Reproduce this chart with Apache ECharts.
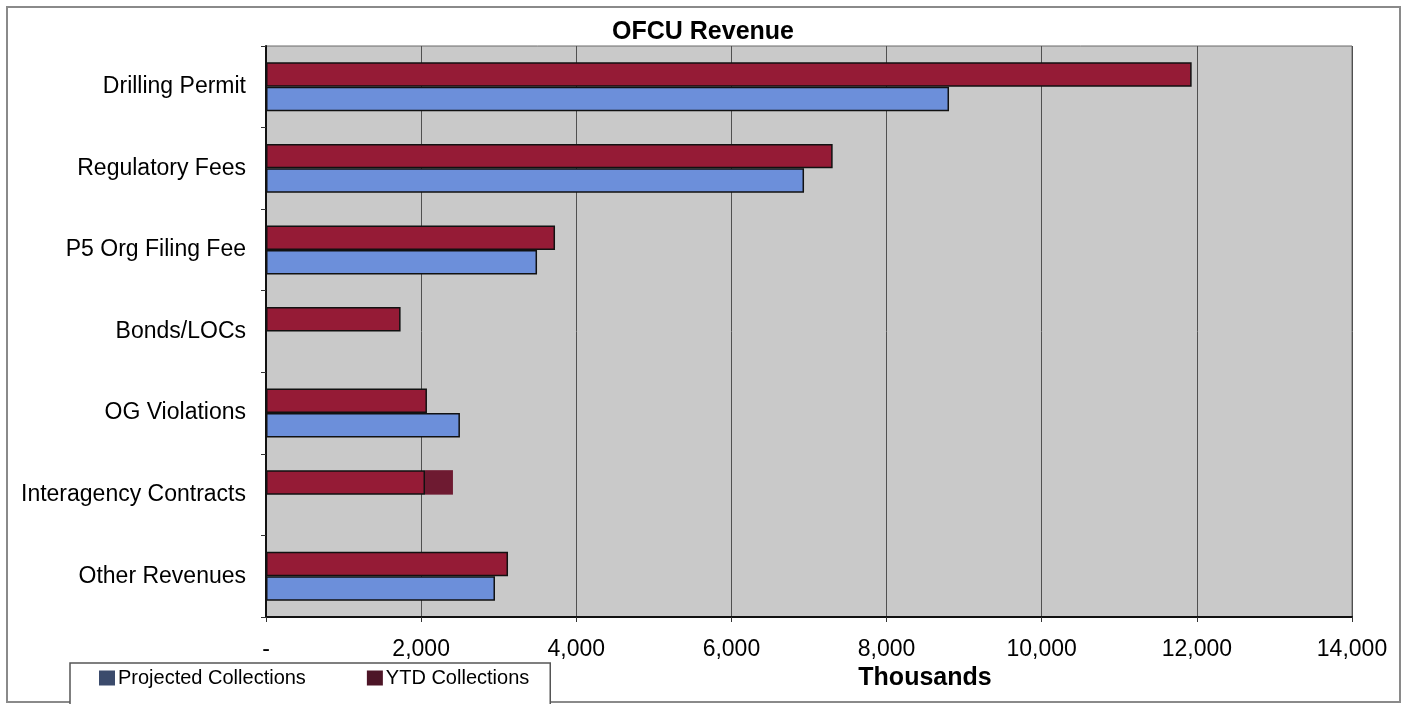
<!DOCTYPE html>
<html>
<head>
<meta charset="utf-8">
<script src="https://cdn.jsdelivr.net/npm/echarts@6/dist/echarts.min.js"></script>
<style>
html,body{margin:0;padding:0;background:#fff;}
#chart{width:1406px;height:704px;}
</style>
</head>
<body>
<div id="chart"></div>
<script>
const categories = ['Drilling Permit','Regulatory Fees','P5 Org Filing Fee','Bonds/LOCs','OG Violations','Interagency Contracts','Other Revenues'];
const projectedCollections = [8805, 6936, 3494, null, 2500, null, 2952];
const ytdCollections = [11933, 7305, 3726, 1735, 2075, 2050, 3120];
const ytdExtra = [null, null, null, null, null, 360, null];
const xTickValues = [0, 2000, 4000, 6000, 8000, 10000, 12000, 14000];
const xTickLabels = ['-', '2,000', '4,000', '6,000', '8,000', '10,000', '12,000', '14,000'];

const FONT = '"Liberation Sans", Arial, sans-serif';
const chart = echarts.init(document.getElementById('chart'));
chart.setOption({
  animation: false,
  backgroundColor: '#ffffff',
  title: {
    text: 'OFCU Revenue',
    left: 'center',
    top: 15,
    textStyle: { fontFamily: FONT, fontSize: 25, fontWeight: 'bold', color: '#000' }
  },
  graphic: [{
    type: 'rect',
    shape: { x: 7, y: 7, width: 1393, height: 695 },
    style: { fill: 'none', stroke: '#8a8a8a', lineWidth: 2 },
    z: -1
  }],
  legend: {
    left: 70,
    top: 663,
    orient: 'horizontal',
    padding: [5, 21, 20, 29],
    itemGap: 61,
    itemWidth: 16,
    itemHeight: 15,
    borderColor: '#555',
    borderWidth: 1.5,
    backgroundColor: '#fff',
    textStyle: { fontFamily: FONT, fontSize: 20, color: '#000', padding: [0, 0, 0, -2] },
    data: [
      { name: 'Projected Collections', icon: 'rect', itemStyle: { color: '#3b4b6c', borderWidth: 0 } },
      { name: 'YTD Collections', icon: 'rect', itemStyle: { color: '#4d1527', borderWidth: 0 } }
    ]
  },
  grid: {
    left: 266,
    right: 54,
    top: 46,
    bottom: 87,
    show: true,
    backgroundColor: '#c9c9c9',
    borderColor: '#6a6a6a',
    borderWidth: 1
  },
  xAxis: {
    type: 'value',
    min: 0,
    max: 14000,
    interval: 2000,
    name: 'Thousands',
    nameLocation: 'middle',
    nameGap: 41,
    nameTextStyle: { fontFamily: FONT, fontSize: 25, fontWeight: 'bold', color: '#000', padding: [0, 0, 0, 232] },
    axisLine: { show: true, lineStyle: { color: '#111', width: 2 } },
    axisTick: { show: true, length: 5, lineStyle: { color: '#333' } },
    splitLine: { show: true, lineStyle: { color: '#505050', width: 1 } },
    axisLabel: {
      margin: 21,
      fontFamily: FONT,
      fontSize: 23,
      color: '#000',
      formatter: function (v) {
        const i = xTickValues.indexOf(v);
        return i >= 0 ? xTickLabels[i] : '';
      }
    }
  },
  yAxis: {
    type: 'category',
    data: categories,
    inverse: true,
    axisLine: { show: true, lineStyle: { color: '#111', width: 2 } },
    axisTick: { show: true, length: 5, lineStyle: { color: '#333' } },
    splitLine: { show: false },
    axisLabel: { margin: 20, fontFamily: FONT, fontSize: 23, color: '#000' }
  },
  series: [
    {
      name: 'YTD Collections',
      type: 'bar',
      stack: 'ytd',
      data: ytdCollections,
      barCategoryGap: '40%',
      barGap: '0%',
      itemStyle: { color: '#951b36', borderColor: '#111', borderWidth: 1.5 }
    },
    {
      name: 'YTD extra',
      type: 'bar',
      stack: 'ytd',
      data: ytdExtra,
      itemStyle: { color: '#6e1a31', borderWidth: 0 }
    },
    {
      name: 'Projected Collections',
      type: 'bar',
      data: projectedCollections,
      barCategoryGap: '40%',
      barGap: '0%',
      itemStyle: { color: '#6c8fda', borderColor: '#111', borderWidth: 1.5 }
    }
  ]
});
</script>
</body>
</html>
